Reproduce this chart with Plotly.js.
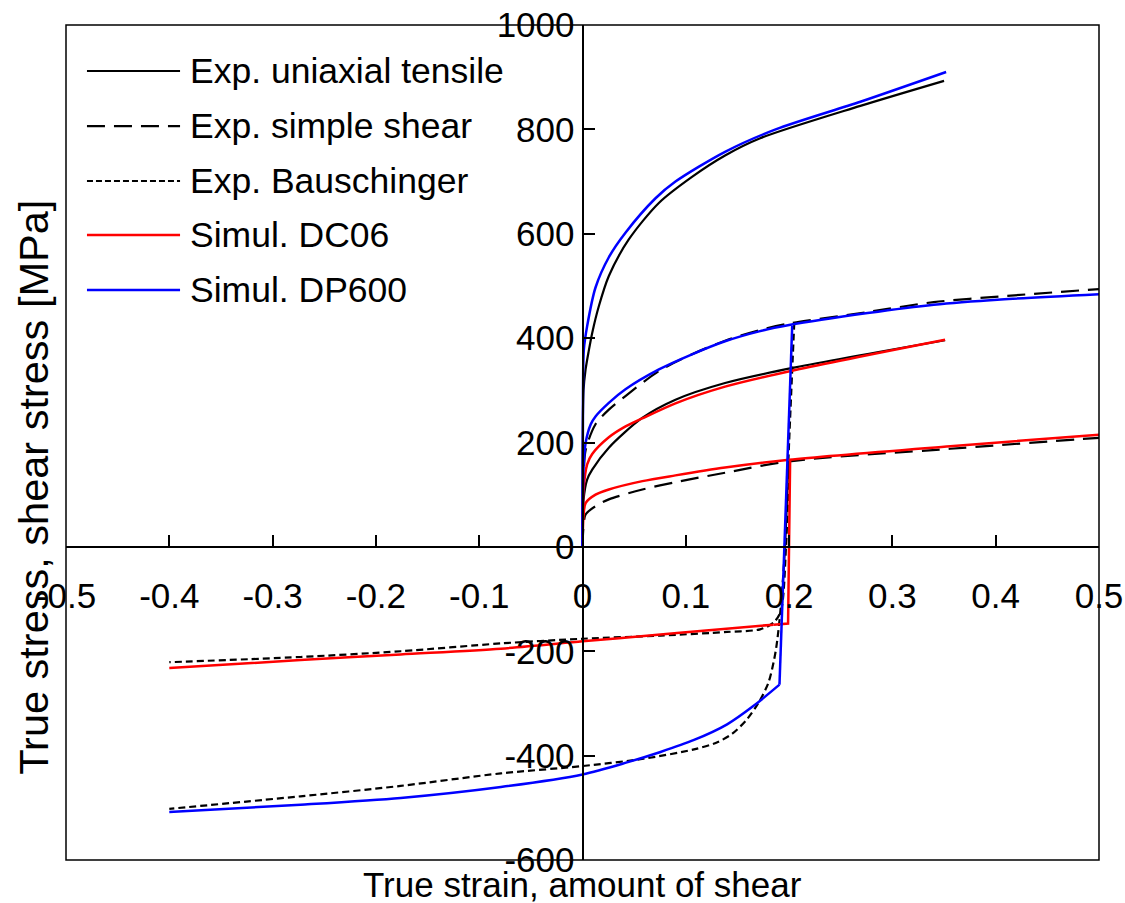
<!DOCTYPE html>
<html>
<head>
<meta charset="utf-8">
<script src="https://cdn.plot.ly/plotly-3.0.1.min.js"></script>
<style>html,body{margin:0;padding:0;background:#fff;}#chart{width:1125px;height:903px;}</style>
</head>
<body>
<div id="chart"></div>
<script>
// ---------- DATA ----------
// DP600 uniaxial tensile (experiment)
const dpTensileExpX = [0, 0.001, 0.003, 0.006, 0.0094, 0.0158, 0.0255, 0.0448, 0.0739, 0.106, 0.138, 0.172, 0.269, 0.35];
const dpTensileExpY = [0, 300, 340, 375, 410, 461, 519, 589, 659, 709, 750, 783, 845, 893];
// DP600 uniaxial tensile (simulation)
const dpTensileSimX = [0, 0.0005, 0.0013, 0.0045, 0.0126, 0.0255, 0.0416, 0.0707, 0.090, 0.138, 0.187, 0.269, 0.352];
const dpTensileSimY = [0, 300, 378, 423, 497, 555, 602, 668, 700, 757, 800, 853, 910];
// DC06 uniaxial tensile (experiment)
const dcTensileExpX = [0, 0.001, 0.0045, 0.0094, 0.0255, 0.0578, 0.090, 0.138, 0.206, 0.351];
const dcTensileExpY = [0, 90, 129, 148, 190, 247, 282, 314, 344, 396];
// DC06 uniaxial tensile (simulation)
const dcTensileSimX = [0, 0.001, 0.0045, 0.0094, 0.0255, 0.040, 0.0578, 0.090, 0.138, 0.206, 0.351];
const dcTensileSimY = [0, 110, 158, 178, 210, 229, 246, 275, 307, 339, 397];
// DP600 simple shear (experiment)
const dpShearExpX = [0, 0.001, 0.003, 0.0126, 0.0255, 0.0416, 0.074, 0.106, 0.138, 0.171, 0.2, 0.276, 0.34, 0.405, 0.5];
const dpShearExpY = [0, 120, 185, 235, 263, 289, 337, 369, 395, 415, 428, 450, 469, 480, 494];
// DP600 simple shear (simulation)
const dpShearSimX = [0, 0.001, 0.003, 0.008, 0.0126, 0.0255, 0.0416, 0.074, 0.106, 0.138, 0.171, 0.2, 0.276, 0.34, 0.405, 0.5];
const dpShearSimY = [0, 150, 199, 235, 250, 276, 302, 340, 369, 394, 413, 425, 448, 464, 474, 484];
// DC06 simple shear (experiment)
const dcShearExpX = [0, 0.001, 0.003, 0.0126, 0.0255, 0.058, 0.09, 0.138, 0.2, 0.356, 0.5];
const dcShearExpY = [0, 40, 62, 78, 91, 110, 124, 142, 164, 188, 209];
// DC06 simple shear (simulation)
const dcShearSimX = [0, 0.001, 0.003, 0.0126, 0.0255, 0.058, 0.09, 0.138, 0.2, 0.356, 0.5];
const dcShearSimY = [0, 60, 84, 100, 110, 126, 137, 152, 167, 193, 215];
// DP600 Bauschinger (experiment, reverse loading)
const dpBauschExpX = [0.205, 0.2, 0.196, 0.192, 0.187, 0.180, 0.170, 0.159, 0.145, 0.130, 0.108, 0.059, 0, -0.079, -0.176, -0.273, -0.4];
const dpBauschExpY = [430, 200, 0, -114, -200, -260, -300, -331, -358, -375, -388, -406, -420, -434, -458, -478, -502];
// DP600 Bauschinger (simulation): elastic drop, then reverse hardening
const dpBauschSimX = [0.203, 0.1907, 0.166, 0.140, 0.108, 0.0755, 0.043, 0, -0.079, -0.176, -0.273, -0.4];
const dpBauschSimY = [424, -264, -304, -340, -370, -393, -413, -436, -460, -481, -494, -508];
// DC06 Bauschinger (experiment)
const dcBauschExpX = [0.2, 0.197, 0.192, 0.185, 0.172, 0.14, 0.0755, 0, -0.079, -0.176, -0.273, -0.4];
const dcBauschExpY = [165, 0, -123, -145, -158, -163, -170, -176, -185, -200, -211, -221];
// DC06 Bauschinger (simulation)
const dcBauschSimX = [0.201, 0.199, 0.185, 0.114, 0.0755, 0, -0.079, -0.176, -0.273, -0.4];
const dcBauschSimY = [167, -147, -149, -161, -168, -181, -195, -206, -217, -232];

// Legend and ticks
const legendLabels = ["Exp. uniaxial tensile", "Exp. simple shear", "Exp. Bauschinger", "Simul. DC06", "Simul. DP600"];
const xTickVals = [-0.5, -0.4, -0.3, -0.2, -0.1, 0, 0.1, 0.2, 0.3, 0.4, 0.5];
const xTickText = ["-0.5", "-0.4", "-0.3", "-0.2", "-0.1", "0", "0.1", "0.2", "0.3", "0.4", "0.5"];
const yTickVals = [-600, -400, -200, 0, 200, 400, 600, 800, 1000];
const yTickText = ["-600", "-400", "-200", "0", "200", "400", "600", "800", "1000"];

// ---------- STYLES ----------
const FONT = "Liberation Sans, Arial, Helvetica, sans-serif";
const W = 2.2;
const sTensile = {color: "#000000", width: W, dash: "solid"};
const sShear = {color: "#000000", width: W, dash: "18px,9px"};
const sBausch = {color: "#000000", width: W, dash: "7px,4px"};
const sDC = {color: "#ff0000", width: 2.5, dash: "solid"};
const sDP = {color: "#0000ff", width: 2.5, dash: "solid"};

function tr(x, y, line, linear) {
  const l = Object.assign({}, line, linear ? {shape: "linear"} : {shape: "spline", smoothing: 0.8});
  return {x: x, y: y, type: "scatter", mode: "lines", line: l, hoverinfo: "skip", showlegend: false};
}

const traces = [
  tr(dcShearExpX, dcShearExpY, sShear),
  tr(dpShearExpX, dpShearExpY, sShear),
  tr(dcBauschExpX, dcBauschExpY, sBausch),
  tr(dpBauschExpX, dpBauschExpY, sBausch),
  tr(dcTensileExpX, dcTensileExpY, sTensile),
  tr(dpTensileExpX, dpTensileExpY, sTensile),
  tr(dcShearSimX, dcShearSimY, sDC),
  tr(dcTensileSimX, dcTensileSimY, sDC),
  tr(dcBauschSimX.slice(0, 3), dcBauschSimY.slice(0, 3), sDC, true),
  tr(dcBauschSimX.slice(2), dcBauschSimY.slice(2), sDC),
  tr(dpShearSimX, dpShearSimY, sDP),
  tr(dpTensileSimX, dpTensileSimY, sDP),
  tr(dpBauschSimX.slice(0, 2), dpBauschSimY.slice(0, 2), sDP, true),
  tr(dpBauschSimX.slice(1), dpBauschSimY.slice(1), sDP)
];

// manual legend (long sample lines as in the reference)
const legendStyles = [sTensile, sShear, {color: "#000000", width: 2, dash: "6px,3px"}, sDC, sDP];
const rowY = [0.9449, 0.8790, 0.8132, 0.7485, 0.6826];
const shapes = [{
  type: "rect", xref: "paper", yref: "paper", x0: 0, x1: 1, y0: 0, y1: 1,
  line: {color: "#000000", width: 1.5}, layer: "above"
}];
const annotations = [];
legendLabels.forEach(function (lab, i) {
  shapes.push({type: "line", xref: "paper", yref: "paper", x0: 0.0203, x1: 0.1104, y0: rowY[i], y1: rowY[i],
    line: {color: legendStyles[i].color, width: legendStyles[i].width, dash: legendStyles[i].dash}});
  annotations.push({xref: "paper", yref: "paper", x: 0.118, y: rowY[i], xanchor: "left", yanchor: "middle",
    text: lab, showarrow: false, font: {family: FONT, size: 35.5, color: "#000000"}});
});
annotations.push({xref: "paper", yref: "paper", x: 0.5, y: -0.029, xanchor: "center", yanchor: "middle",
  text: "True strain, amount of shear", showarrow: false, font: {family: FONT, size: 35, color: "#000"}});
annotations.push({xref: "paper", yref: "paper", x: -0.031, y: 0.447, xanchor: "center", yanchor: "middle", textangle: -90,
  text: "True stress, shear stress [MPa]", showarrow: false, font: {family: FONT, size: 41.5, color: "#000"}});

const layout = {
  width: 1125, height: 903,
  margin: {l: 66, r: 26, t: 25, b: 43},
  paper_bgcolor: "#ffffff", plot_bgcolor: "#ffffff",
  showlegend: false,
  font: {family: FONT, size: 35, color: "#000000"},
  xaxis: {
    range: [-0.5, 0.5], anchor: "free", position: 0.375,
    tickvals: xTickVals, ticktext: xTickText,
    ticks: "inside", ticklen: 11, tickwidth: 2, tickcolor: "#000",
    showline: true, linecolor: "#000", linewidth: 2,
    showgrid: false, zeroline: false, ticklabelstandoff: 18,
    tickfont: {family: FONT, size: 35, color: "#000"}
  },
  yaxis: {
    range: [-600, 1000], anchor: "free", position: 0.5,
    tickvals: yTickVals, ticktext: yTickText,
    ticks: "inside", ticklen: 11, tickwidth: 2, tickcolor: "#000",
    showline: true, linecolor: "#000", linewidth: 2,
    showgrid: false, zeroline: false,
    tickfont: {family: FONT, size: 35, color: "#000"}
  },
  shapes: shapes,
  annotations: annotations
};

Plotly.newPlot("chart", traces, layout, {staticPlot: true, displayModeBar: false});
</script>
</body>
</html>
